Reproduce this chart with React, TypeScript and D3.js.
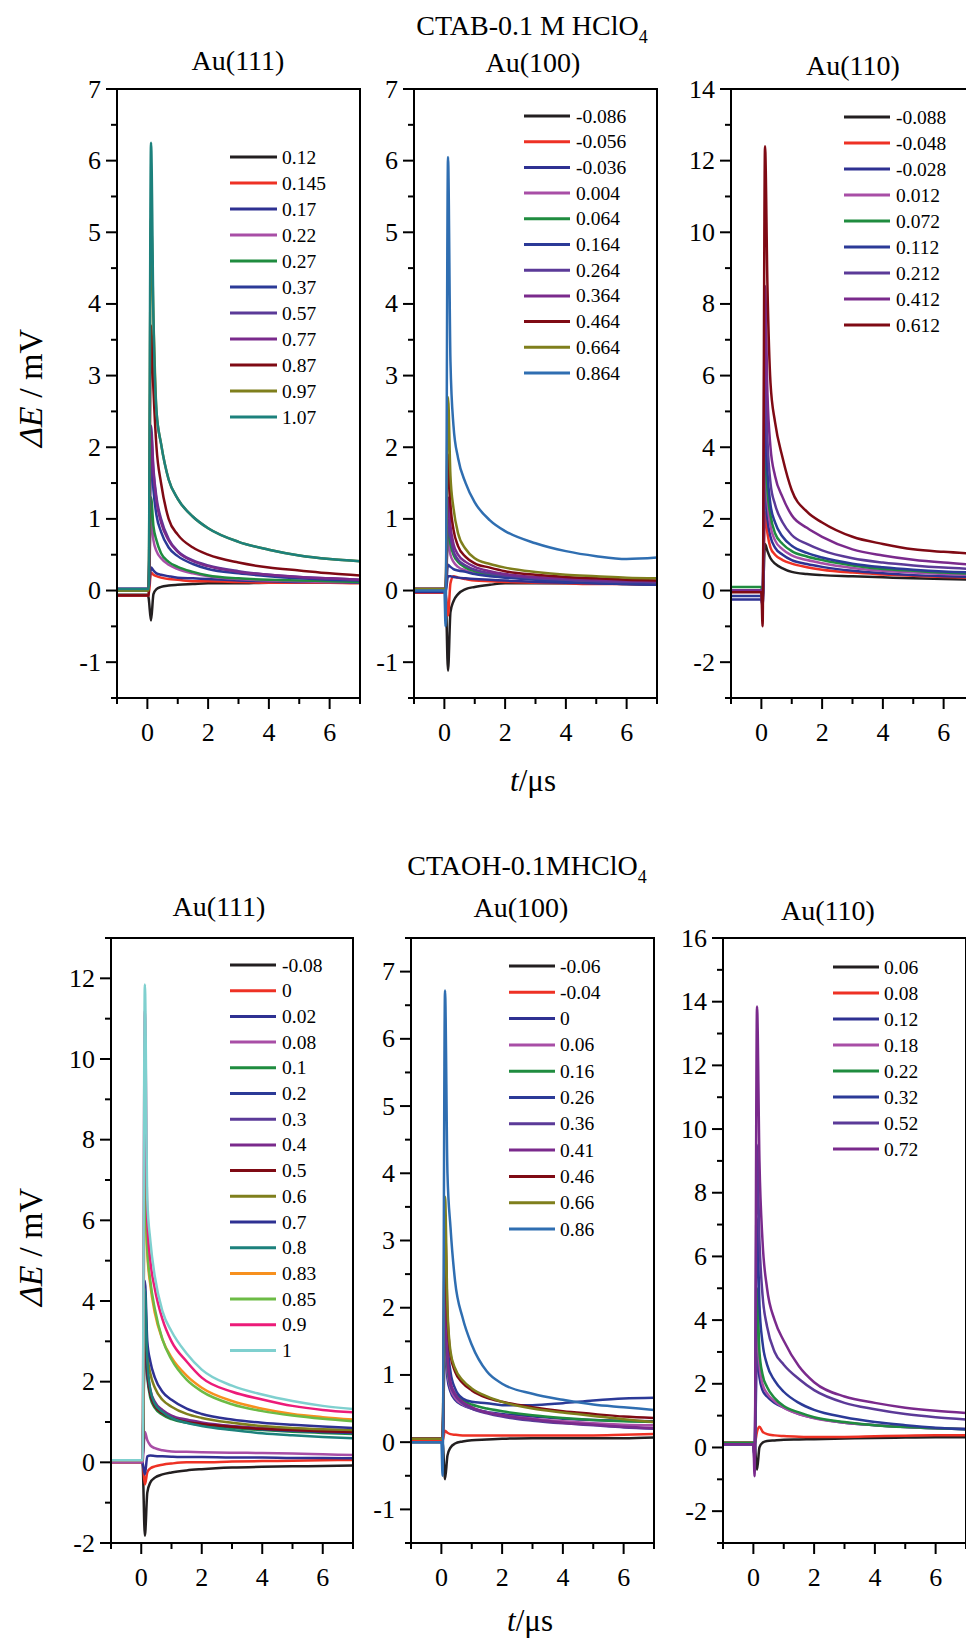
import React from "react";
import * as d3 from "d3";

// ---------- shared time knots (µs) ----------
const T = [-1, 0, 0.04, 0.12, 0.2, 0.3, 0.45, 0.7, 1, 1.5, 2, 3, 4, 5, 6, 7];

// ---------- colours (Origin palette) ----------
const C = {
  black: "#231f20", red: "#ee3124", navy: "#2e3192", pink: "#a84ea6", green: "#1f8c3f",
  blue: "#2b3a97", indigo: "#5b3a98", purple: "#7a2a8c", darkred: "#7f0a14", olive: "#7f7f1c",
  teal: "#1c817c", steel: "#2f6eb1", orange: "#f7901e", lgreen: "#6cbb45", hotpink: "#ec1b79",
  cyan: "#7fd0cf",
};

// ---------- CTAB Au(111) ----------
const ctab111Labels = ["0.12", "0.145", "0.17", "0.22", "0.27", "0.37", "0.57", "0.77", "0.87", "0.97", "1.07"];
const ctab111Colors = [C.black, C.red, C.navy, C.pink, C.green, C.blue, C.indigo, C.purple, C.darkred, C.olive, C.teal];
const ctab111Values = [
  [-0.06, -0.06, -0.1, -0.42, -0.05, 0.02, 0.05, 0.07, 0.08, 0.09, 0.1, 0.1, 0.11, 0.11, 0.11, 0.11],
  [-0.07, -0.07, -0.07, 0.25, 0.22, 0.2, 0.18, 0.16, 0.15, 0.13, 0.13, 0.12, 0.11, 0.11, 0.11, 0.1],
  [0.02, 0.02, 0.02, 0.32, 0.28, 0.24, 0.22, 0.2, 0.18, 0.17, 0.16, 0.14, 0.13, 0.12, 0.12, 0.11],
  [0, 0, 0, 1.0, 0.7, 0.55, 0.45, 0.36, 0.3, 0.24, 0.2, 0.16, 0.14, 0.13, 0.12, 0.12],
  [0, 0, 0, 1.3, 0.9, 0.7, 0.52, 0.4, 0.33, 0.26, 0.21, 0.17, 0.15, 0.14, 0.13, 0.12],
  [0.02, 0.02, 0.02, 1.9, 1.4, 1.05, 0.82, 0.6, 0.48, 0.37, 0.3, 0.24, 0.2, 0.17, 0.15, 0.14],
  [0.02, 0.02, 0.02, 2.3, 1.7, 1.3, 1.0, 0.72, 0.55, 0.42, 0.35, 0.27, 0.22, 0.19, 0.17, 0.15],
  [0.02, 0.02, 0.02, 2.2, 1.65, 1.25, 0.95, 0.7, 0.54, 0.41, 0.34, 0.26, 0.22, 0.19, 0.17, 0.15],
  [-0.07, -0.07, -0.07, 3.7, 2.8, 2.0, 1.5, 1.0, 0.78, 0.6, 0.5, 0.39, 0.32, 0.28, 0.24, 0.21],
  [0, 0, 0, 5.2, 3.8, 2.5, 2.05, 1.55, 1.28, 1.03, 0.87, 0.68, 0.57, 0.49, 0.44, 0.41],
  [0.02, 0.02, 0.02, 6.25, 3.8, 2.5, 2.05, 1.55, 1.28, 1.03, 0.87, 0.68, 0.57, 0.49, 0.44, 0.41],
];

// ---------- CTAB Au(100) ----------
const ctab100Labels = ["-0.086", "-0.056", "-0.036", "0.004", "0.064", "0.164", "0.264", "0.364", "0.464", "0.664", "0.864"];
const ctab100Colors = [C.black, C.red, C.navy, C.pink, C.green, C.blue, C.indigo, C.purple, C.darkred, C.olive, C.steel];
const ctab100Values = [
  [-0.03, -0.03, -0.03, -1.12, -0.3, -0.15, -0.05, 0.02, 0.05, 0.08, 0.1, 0.1, 0.1, 0.1, 0.09, 0.08],
  [-0.03, -0.03, -0.03, -0.35, 0.1, 0.2, 0.18, 0.16, 0.14, 0.13, 0.12, 0.11, 0.1, 0.09, 0.09, 0.08],
  [-0.02, -0.02, -0.02, 0.2, 0.2, 0.19, 0.18, 0.17, 0.16, 0.15, 0.14, 0.12, 0.11, 0.1, 0.09, 0.08],
  [0.02, 0.02, 0.02, 0.7, 0.5, 0.4, 0.33, 0.28, 0.24, 0.21, 0.19, 0.16, 0.14, 0.13, 0.12, 0.12],
  [0.02, 0.02, 0.02, 0.9, 0.65, 0.5, 0.4, 0.32, 0.27, 0.23, 0.2, 0.17, 0.15, 0.14, 0.13, 0.12],
  [0, 0, 0, 0.36, 0.33, 0.3, 0.28, 0.26, 0.23, 0.2, 0.18, 0.15, 0.12, 0.1, 0.09, 0.08],
  [0.02, 0.02, 0.02, 1.0, 0.75, 0.55, 0.43, 0.35, 0.29, 0.24, 0.21, 0.17, 0.15, 0.13, 0.12, 0.12],
  [0.02, 0.02, 0.02, 1.3, 0.9, 0.65, 0.5, 0.4, 0.33, 0.27, 0.23, 0.19, 0.17, 0.15, 0.14, 0.13],
  [0.02, 0.02, 0.02, 1.9, 1.2, 0.85, 0.62, 0.47, 0.38, 0.32, 0.27, 0.22, 0.19, 0.17, 0.15, 0.14],
  [0.02, 0.02, 0.02, 2.7, 1.6, 1.15, 0.8, 0.58, 0.45, 0.37, 0.32, 0.26, 0.22, 0.2, 0.18, 0.17],
  [0, 0, -0.5, 6.05, 3.2, 2.3, 1.85, 1.5, 1.23, 0.98, 0.83, 0.66, 0.55, 0.48, 0.44, 0.46],
];

// ---------- CTAB Au(110) ----------
const ctab110Labels = ["-0.088", "-0.048", "-0.028", "0.012", "0.072", "0.112", "0.212", "0.412", "0.612"];
const ctab110Colors = [C.black, C.red, C.navy, C.pink, C.green, C.blue, C.indigo, C.purple, C.darkred];
const ctab110Values = [
  [0, 0, -0.2, 1.3, 1.1, 0.9, 0.75, 0.62, 0.52, 0.46, 0.43, 0.4, 0.37, 0.34, 0.32, 0.3],
  [0, 0, -0.3, 2.2, 1.6, 1.2, 1.0, 0.85, 0.75, 0.65, 0.58, 0.5, 0.45, 0.41, 0.38, 0.36],
  [-0.25, -0.25, -0.4, 3.0, 2.0, 1.5, 1.2, 1.0, 0.85, 0.74, 0.66, 0.55, 0.48, 0.43, 0.4, 0.38],
  [0, 0, -0.3, 3.8, 2.5, 1.8, 1.4, 1.15, 0.98, 0.85, 0.76, 0.63, 0.55, 0.5, 0.46, 0.43],
  [0.1, 0.1, -0.3, 4.3, 2.8, 2.1, 1.6, 1.3, 1.1, 0.95, 0.85, 0.7, 0.6, 0.55, 0.5, 0.47],
  [-0.15, -0.15, -0.5, 5.0, 3.3, 2.4, 1.9, 1.5, 1.25, 1.05, 0.92, 0.75, 0.65, 0.58, 0.53, 0.5],
  [0, 0, -0.5, 6.5, 4.2, 3.0, 2.4, 1.9, 1.55, 1.3, 1.12, 0.9, 0.78, 0.7, 0.64, 0.6],
  [0, 0, -0.5, 8.5, 5.5, 4.0, 3.2, 2.6, 2.1, 1.75, 1.5, 1.15, 0.98, 0.86, 0.78, 0.72],
  [-0.05, -0.05, -1.0, 12.4, 8.5, 5.8, 4.7, 3.7, 2.8, 2.2, 1.9, 1.5, 1.3, 1.15, 1.08, 1.03],
];

// ---------- CTAOH Au(111) ----------
const ctaoh111Labels = ["-0.08", "0", "0.02", "0.08", "0.1", "0.2", "0.3", "0.4", "0.5", "0.6", "0.7", "0.8", "0.83", "0.85", "0.9", "1"];
const ctaoh111Colors = [C.black, C.red, C.navy, C.pink, C.green, C.blue, C.indigo, C.purple, C.darkred, C.olive, C.navy, C.teal, C.orange, C.lgreen, C.hotpink, C.cyan];
const ctaoh111Values = [
  [0, 0, 0, -1.82, -0.75, -0.5, -0.38, -0.3, -0.25, -0.2, -0.17, -0.13, -0.11, -0.1, -0.09, -0.08],
  [0, 0, 0, -0.55, -0.25, -0.15, -0.1, -0.06, -0.03, 0, 0, 0.02, 0.03, 0.04, 0.05, 0.06],
  [0.05, 0.05, 0, -0.3, 0.15, 0.17, 0.16, 0.15, 0.14, 0.13, 0.13, 0.12, 0.12, 0.11, 0.11, 0.1],
  [0, 0, 0, 0.75, 0.55, 0.42, 0.35, 0.3, 0.27, 0.26, 0.25, 0.24, 0.23, 0.22, 0.2, 0.18],
  [0.05, 0.05, 0.05, 3.0, 2.1, 1.6, 1.35, 1.18, 1.07, 0.98, 0.93, 0.85, 0.8, 0.76, 0.73, 0.7],
  [0.05, 0.05, 0.05, 3.3, 2.2, 1.7, 1.42, 1.24, 1.12, 1.02, 0.96, 0.88, 0.82, 0.78, 0.75, 0.73],
  [0.05, 0.05, 0.05, 3.5, 2.3, 1.75, 1.45, 1.27, 1.14, 1.04, 0.97, 0.89, 0.84, 0.8, 0.77, 0.75],
  [0.05, 0.05, 0.05, 3.8, 2.4, 1.8, 1.5, 1.3, 1.16, 1.06, 0.99, 0.9, 0.85, 0.81, 0.78, 0.76],
  [0.05, 0.05, 0.05, 3.6, 2.3, 1.7, 1.4, 1.22, 1.1, 1.0, 0.95, 0.88, 0.83, 0.8, 0.77, 0.75],
  [0.05, 0.05, 0.05, 4.0, 2.7, 2.2, 1.85, 1.55, 1.38, 1.2, 1.1, 0.98, 0.9, 0.85, 0.82, 0.8],
  [0.05, 0.05, 0.05, 4.5, 3.0, 2.5, 2.1, 1.75, 1.55, 1.33, 1.2, 1.06, 0.98, 0.93, 0.89, 0.85],
  [0.05, 0.05, 0.05, 4.3, 2.5, 1.8, 1.45, 1.25, 1.1, 0.98, 0.9, 0.8, 0.72, 0.67, 0.63, 0.6],
  [0.05, 0.05, 0.05, 7.5, 5.2, 4.4, 3.7, 3.05, 2.6, 2.15, 1.85, 1.52, 1.33, 1.2, 1.12, 1.06],
  [0.05, 0.05, 0.05, 8.0, 5.3, 4.5, 3.8, 3.05, 2.55, 2.05, 1.76, 1.44, 1.27, 1.16, 1.08, 1.02],
  [0.05, 0.05, 0.05, 11.2, 6.0, 5.0, 4.3, 3.55, 3.0, 2.5, 2.1, 1.75, 1.56, 1.4, 1.3, 1.24],
  [0.05, 0.05, 0.05, 11.85, 6.5, 5.5, 4.6, 3.75, 3.25, 2.7, 2.3, 1.9, 1.68, 1.52, 1.4, 1.32],
];

// ---------- CTAOH Au(100) ----------
const ctaoh100Labels = ["-0.06", "-0.04", "0", "0.06", "0.16", "0.26", "0.36", "0.41", "0.46", "0.66", "0.86"];
const ctaoh100Colors = [C.black, C.red, C.navy, C.pink, C.green, C.blue, C.indigo, C.purple, C.darkred, C.olive, C.steel];
const ctaoh100Values = [
  [0, 0, 0, -0.55, -0.2, -0.08, -0.02, 0.01, 0.03, 0.04, 0.05, 0.06, 0.06, 0.06, 0.06, 0.07],
  [0.03, 0.02, 0.02, 0.17, 0.14, 0.12, 0.11, 0.1, 0.1, 0.1, 0.1, 0.1, 0.1, 0.1, 0.11, 0.12],
  [0.05, 0.05, 0.05, 1.5, 0.95, 0.75, 0.63, 0.55, 0.5, 0.45, 0.42, 0.38, 0.35, 0.33, 0.32, 0.31],
  [0.05, 0.05, 0.05, 1.7, 1.05, 0.8, 0.66, 0.56, 0.5, 0.44, 0.4, 0.35, 0.31, 0.28, 0.26, 0.25],
  [0.05, 0.05, 0.05, 1.9, 1.15, 0.85, 0.72, 0.62, 0.56, 0.5, 0.46, 0.4, 0.36, 0.33, 0.31, 0.3],
  [0.05, 0.05, 0.05, 2.6, 1.5, 1.05, 0.8, 0.65, 0.6, 0.58, 0.55, 0.55, 0.58, 0.62, 0.65, 0.66],
  [0.05, 0.05, 0.05, 2.1, 1.2, 0.85, 0.7, 0.58, 0.5, 0.43, 0.38, 0.32, 0.28, 0.25, 0.22, 0.2],
  [0.05, 0.05, 0.05, 2.3, 1.3, 0.9, 0.72, 0.6, 0.52, 0.44, 0.4, 0.34, 0.29, 0.26, 0.23, 0.21],
  [0.05, 0.05, 0.05, 3.2, 1.9, 1.3, 1.05, 0.88, 0.77, 0.66, 0.6, 0.52, 0.46, 0.42, 0.38, 0.36],
  [0.05, 0.05, 0.05, 3.65, 2.0, 1.35, 1.1, 0.92, 0.8, 0.68, 0.6, 0.5, 0.44, 0.39, 0.34, 0.3],
  [0, 0, -0.5, 6.72, 4.0, 3.2, 2.4, 1.85, 1.45, 1.05, 0.87, 0.72, 0.63, 0.56, 0.52, 0.48],
];

// ---------- CTAOH Au(110) ----------
const ctaoh110Labels = ["0.06", "0.08", "0.12", "0.18", "0.22", "0.32", "0.52", "0.72"];
const ctaoh110Colors = [C.black, C.red, C.navy, C.pink, C.green, C.blue, C.indigo, C.purple];
const ctaoh110Values = [
  [0.15, 0.15, 0.1, -0.7, 0.0, 0.15, 0.2, 0.22, 0.24, 0.25, 0.26, 0.28, 0.3, 0.31, 0.32, 0.32],
  [0.15, 0.15, 0.1, 0.5, 0.65, 0.5, 0.42, 0.38, 0.36, 0.34, 0.33, 0.33, 0.35, 0.37, 0.38, 0.38],
  [0.1, 0.1, -0.3, 3.0, 2.2, 1.8, 1.6, 1.4, 1.25, 1.05, 0.93, 0.78, 0.7, 0.64, 0.6, 0.58],
  [0.1, 0.1, -0.3, 4.0, 2.6, 2.0, 1.7, 1.45, 1.25, 1.05, 0.92, 0.78, 0.7, 0.64, 0.6, 0.58],
  [0.15, 0.15, -0.3, 5.0, 3.0, 2.3, 1.9, 1.55, 1.3, 1.1, 0.95, 0.8, 0.7, 0.64, 0.6, 0.57],
  [0.1, 0.1, -0.3, 7.2, 4.5, 3.3, 2.6, 2.1, 1.75, 1.4, 1.18, 0.95, 0.8, 0.7, 0.62, 0.57],
  [0.1, 0.1, -0.5, 9.5, 6.5, 4.8, 3.8, 3.0, 2.6, 2.15, 1.8, 1.4, 1.2, 1.05, 0.95, 0.88],
  [0.1, 0.1, -0.9, 13.85, 9.0, 6.5, 5.0, 4.0, 3.35, 2.55, 2.05, 1.6, 1.4, 1.25, 1.15, 1.08],
];

const X_MAJOR = [0, 2, 4, 6];
const X_MINOR = [-1, 1, 3, 5, 7];

const FONT = "'Liberation Serif', 'Times New Roman', serif";

type PanelDef = {
  id: string; x0: number; x1: number; y0: number; y1: number;
  yDomain: [number, number]; yMajor: number; yMinor: number;
  labels: string[]; colors: string[]; values: number[][];
  title: string; titleX: number; titleY: number;
  leg: { lx1: number; lx2: number; tx: number; y: number; dy: number };
};

const panels: PanelDef[] = [
  { id: "p1", x0: 117, x1: 360, y0: 89, y1: 698, yDomain: [-1.5, 7], yMajor: 1, yMinor: 0.5,
    labels: ctab111Labels, colors: ctab111Colors, values: ctab111Values,
    title: "Au(111)", titleX: 238, titleY: 70, leg: { lx1: 230, lx2: 277, tx: 282, y: 157, dy: 26 } },
  { id: "p2", x0: 414, x1: 657, y0: 89, y1: 698, yDomain: [-1.5, 7], yMajor: 1, yMinor: 0.5,
    labels: ctab100Labels, colors: ctab100Colors, values: ctab100Values,
    title: "Au(100)", titleX: 533, titleY: 72, leg: { lx1: 524, lx2: 570, tx: 576, y: 116, dy: 25.7 } },
  { id: "p3", x0: 731, x1: 974, y0: 89, y1: 698, yDomain: [-3, 14], yMajor: 2, yMinor: 1,
    labels: ctab110Labels, colors: ctab110Colors, values: ctab110Values,
    title: "Au(110)", titleX: 853, titleY: 75, leg: { lx1: 844, lx2: 890, tx: 896, y: 117, dy: 26 } },
  { id: "p4", x0: 111, x1: 353, y0: 938, y1: 1543, yDomain: [-2, 13], yMajor: 2, yMinor: 1,
    labels: ctaoh111Labels, colors: ctaoh111Colors, values: ctaoh111Values,
    title: "Au(111)", titleX: 219, titleY: 916, leg: { lx1: 230, lx2: 276, tx: 282, y: 965, dy: 25.7 } },
  { id: "p5", x0: 411, x1: 654, y0: 938, y1: 1543, yDomain: [-1.5, 7.5], yMajor: 1, yMinor: 0.5,
    labels: ctaoh100Labels, colors: ctaoh100Colors, values: ctaoh100Values,
    title: "Au(100)", titleX: 521, titleY: 917, leg: { lx1: 509, lx2: 555, tx: 560, y: 966, dy: 26.3 } },
  { id: "p6", x0: 723, x1: 966, y0: 938, y1: 1543, yDomain: [-3, 16], yMajor: 2, yMinor: 1,
    labels: ctaoh110Labels, colors: ctaoh110Colors, values: ctaoh110Values,
    title: "Au(110)", titleX: 828, titleY: 920, leg: { lx1: 833, lx2: 879, tx: 884, y: 967, dy: 26 } },
];

function range(a: number, b: number, step: number) {
  const out: number[] = [];
  for (let v = a; v <= b + 1e-9; v += step) out.push(Math.round(v * 1000) / 1000);
  return out;
}

function Panel({ p }: { p: PanelDef }) {
  const x = d3.scaleLinear().domain([-1, 7]).range([p.x0, p.x1]);
  const y = d3.scaleLinear().domain(p.yDomain).range([p.y1, p.y0]);
  const line = d3.line<[number, number]>()
    .x((d) => x(d[0]))
    .y((d) => y(d[1]))
    .curve(d3.curveMonotoneX);
  const allTicks = range(Math.ceil(p.yDomain[0] / p.yMinor) * p.yMinor, p.yDomain[1], p.yMinor);
  const isMajor = (v: number) => Math.abs(v / p.yMajor - Math.round(v / p.yMajor)) < 1e-6;
  return (
    <g>
      <defs>
        <clipPath id={`clip-${p.id}`}>
          <rect x={p.x0} y={p.y0} width={p.x1 - p.x0} height={p.y1 - p.y0} />
        </clipPath>
      </defs>
      <g clipPath={`url(#clip-${p.id})`}>
        {p.values.map((vals, i) => (
          <path key={i} d={line(T.map((t, k) => [t, vals[k]] as [number, number])) || ""}
            fill="none" stroke={p.colors[i]} strokeWidth={2.5} strokeLinejoin="round" />
        ))}
      </g>
      <rect x={p.x0} y={p.y0} width={p.x1 - p.x0} height={p.y1 - p.y0} fill="none" stroke="#000" strokeWidth={2} />
      {allTicks.map((v) => {
        const maj = isMajor(v);
        return (
          <g key={`y${v}`}>
            <line x1={p.x0 - (maj ? 11 : 6)} x2={p.x0} y1={y(v)} y2={y(v)} stroke="#000" strokeWidth={2} />
            {maj && (
              <text x={p.x0 - 16} y={y(v)} textAnchor="end" dominantBaseline="central"
                fontFamily={FONT} fontSize={26}>{String(v)}</text>
            )}
          </g>
        );
      })}
      {X_MINOR.map((v) => (
        <line key={`xm${v}`} x1={x(v)} x2={x(v)} y1={p.y1} y2={p.y1 + 6} stroke="#000" strokeWidth={2} />
      ))}
      {X_MAJOR.map((v) => (
        <g key={`xM${v}`}>
          <line x1={x(v)} x2={x(v)} y1={p.y1} y2={p.y1 + 11} stroke="#000" strokeWidth={2} />
          <text x={x(v)} y={p.y1 + 43} textAnchor="middle" fontFamily={FONT} fontSize={26}>{String(v)}</text>
        </g>
      ))}
      <text x={p.titleX} y={p.titleY} textAnchor="middle" fontFamily={FONT} fontSize={28}>{p.title}</text>
      {p.labels.map((lab, i) => {
        const ly = p.leg.y + i * p.leg.dy;
        return (
          <g key={`l${i}`}>
            <line x1={p.leg.lx1} x2={p.leg.lx2} y1={ly} y2={ly} stroke={p.colors[i]} strokeWidth={3} />
            <text x={p.leg.tx} y={ly} dominantBaseline="central" fontFamily={FONT} fontSize={19.5}>{lab}</text>
          </g>
        );
      })}
    </g>
  );
}

function YLabel({ x, y }: { x: number; y: number }) {
  return (
    <text transform={`translate(${x},${y}) rotate(-90)`} textAnchor="middle" fontFamily={FONT} fontSize={34}>
      <tspan fontStyle="italic">ΔE</tspan>
      <tspan> / mV</tspan>
    </text>
  );
}

function XLabel({ x, y }: { x: number; y: number }) {
  return (
    <text x={x} y={y} textAnchor="middle" fontFamily={FONT} fontSize={31}>
      <tspan fontStyle="italic">t</tspan>
      <tspan>/μs</tspan>
    </text>
  );
}

export default function App() {
  return (
    <svg width={966} height={1639} viewBox="0 0 966 1639"
      style={{ position: "absolute", left: 0, top: 0, background: "#fff" }}>
      <rect x={0} y={0} width={966} height={1639} fill="#fff" />
      <text x={532} y={35} textAnchor="middle" fontFamily={FONT} fontSize={28}>
        CTAB-0.1 M HClO<tspan fontSize={18} dy={8}>4</tspan>
      </text>
      <text x={527} y={875} textAnchor="middle" fontFamily={FONT} fontSize={28}>
        CTAOH-0.1MHClO<tspan fontSize={18} dy={8}>4</tspan>
      </text>
      {panels.map((p) => <Panel key={p.id} p={p} />)}
      <YLabel x={42} y={388} />
      <YLabel x={42} y={1247} />
      <XLabel x={533} y={791} />
      <XLabel x={530} y={1631} />
    </svg>
  );
}
